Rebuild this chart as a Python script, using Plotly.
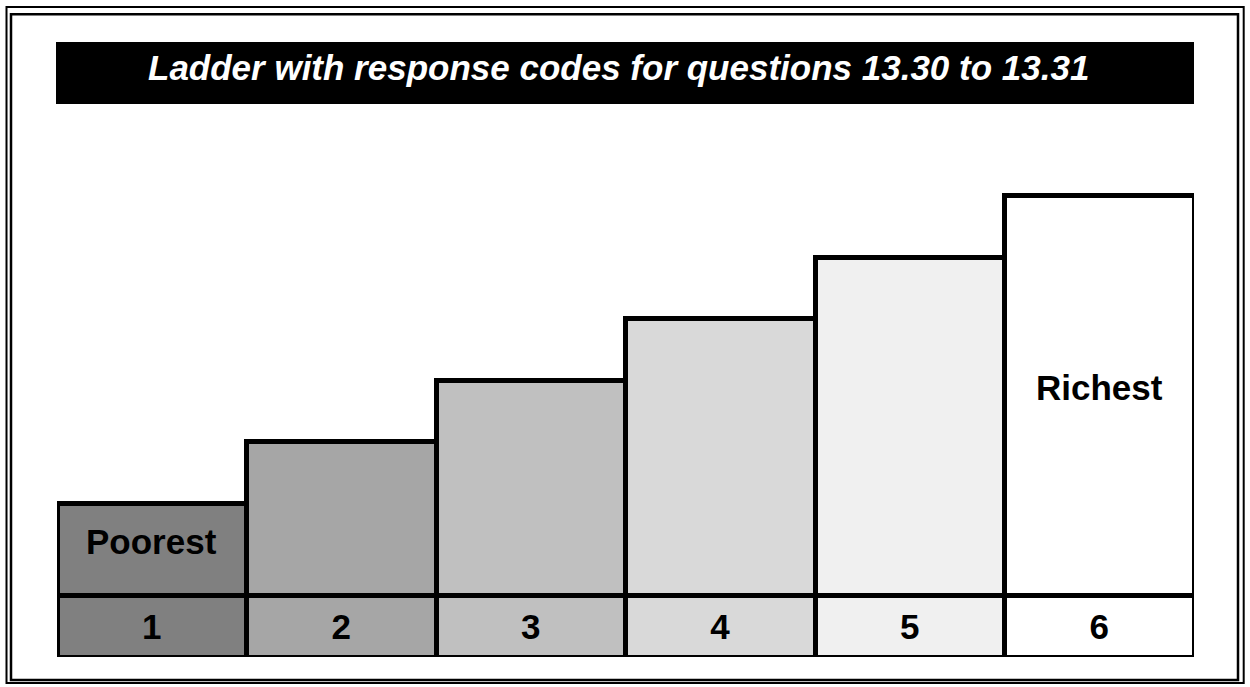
import plotly.graph_objects as go

# ---- data ----
codes = ["1", "2", "3", "4", "5", "6"]
code_row = [1, 1, 1, 1, 1, 1]                  # height of the numbered row
step_heights = [1.5, 2.5, 3.5, 4.5, 5.5, 6.5]  # ladder step above the row
step_labels = ["Poorest", "", "", "", "", "Richest"]
step_colors = ["#808080", "#a6a6a6", "#c0c0c0", "#d9d9d9", "#f0f0f0", "#ffffff"]
title_text = "Ladder with response codes for questions 13.30 to 13.31"

FONT = "Liberation Sans, Arial, sans-serif"

W, H = 1250, 687
L, R, T, B = 57, 56, 42, 30
PW, PH = W - L - R, H - T - B


def px_x(p):
    return (p - L) / PW


def px_y(p):
    return (H - B - p) / PH


xs = list(range(len(codes)))

fig = go.Figure()
fig.add_trace(go.Bar(
    x=xs, y=code_row, width=1,
    marker=dict(color=step_colors, line=dict(color="black", width=5)),
    text=codes, textposition="inside", insidetextanchor="middle",
    textfont=dict(family=FONT, size=35, color="black", weight="bold"),
    hoverinfo="skip",
))
fig.add_trace(go.Bar(
    x=xs, y=step_heights, width=1,
    marker=dict(color=step_colors, line=dict(color="black", width=5)),
    hoverinfo="skip",
))

annotations = []
for xi, (row, hgt, lab) in enumerate(zip(code_row, step_heights, step_labels)):
    if lab:
        annotations.append(dict(
            text=lab, x=xi, y=row + hgt / 2, xref="x", yref="y",
            xanchor="center", yanchor="middle", yshift=8, showarrow=False,
            font=dict(family=FONT, size=35, color="black", weight="bold"),
        ))
annotations.append(dict(
    text=title_text, xref="paper", yref="paper",
    x=px_x(618), y=px_y(67), xanchor="center", yanchor="middle",
    showarrow=False,
    font=dict(family=FONT, size=35, color="white", weight="bold", style="italic"),
))

shapes = [
    # title bar
    dict(type="rect", xref="paper", yref="paper",
         x0=px_x(56), x1=px_x(1194), y0=px_y(104), y1=px_y(42),
         fillcolor="black", line=dict(width=0), layer="below"),
    # outer frame
    dict(type="rect", xref="paper", yref="paper",
         x0=px_x(6.5), x1=px_x(1243.7), y0=px_y(683), y1=px_y(7),
         line=dict(color="black", width=2)),
    # inner frame
    dict(type="rect", xref="paper", yref="paper",
         x0=px_x(11), x1=px_x(1238), y0=px_y(680), y1=px_y(14.3),
         line=dict(color="black", width=2.5)),
]

fig.update_layout(
    width=W, height=H,
    margin=dict(l=L, r=R, t=T, b=B, autoexpand=False),
    barmode="stack", bargap=0,
    showlegend=False,
    paper_bgcolor="white", plot_bgcolor="white",
    xaxis=dict(range=[-0.5, 5.5], visible=False, fixedrange=True),
    yaxis=dict(range=[0, 10], visible=False, fixedrange=True),
    uniformtext=dict(minsize=35, mode="show"),
    shapes=shapes,
    annotations=annotations,
)

fig.write_html(
    "out.html",
    config={"displayModeBar": False, "staticPlot": True},
    post_script="document.body.style.margin='0';document.body.style.overflow='hidden';",
)
